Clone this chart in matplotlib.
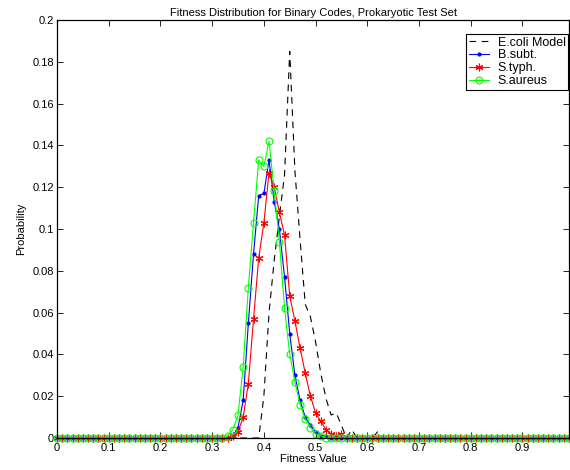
import numpy as np
import matplotlib
matplotlib.use("Agg")
import matplotlib.pyplot as plt
from matplotlib.ticker import FixedLocator, FixedFormatter

plt.rcParams['font.family'] = ['Liberation Sans', 'DejaVu Sans']

# Fitness bins (0.00 .. 0.99 in steps of 0.01)
bins = np.round(np.arange(100) * 0.01, 2)

# Probabilities for bins 0.30 .. 0.65; all other bins are zero
window_start = 30
ecoli = [0, 0, 0, 0, 0, 0, 0, 0, 0, 0.0,
         0.020, 0.060, 0.085, 0.106, 0.126, 0.185, 0.128, 0.095, 0.064, 0.058,
         0.046, 0.031, 0.019, 0.011, 0.012, 0.006, 0.0, 0.004, 0.0, 0.0,
         0.0, 0.0, 0.003, 0.0, 0.0, 0.0]
bsubt = [0, 0, 0, 0, 0.001, 0.005, 0.018, 0.055, 0.088, 0.116,
         0.117, 0.133, 0.113, 0.100, 0.077, 0.050, 0.030, 0.018, 0.010, 0.006,
         0.003, 0.001, 0.001, 0, 0, 0, 0, 0, 0, 0,
         0, 0, 0, 0, 0, 0]
styph = [0, 0, 0, 0, 0.001, 0.003, 0.010, 0.026, 0.057, 0.086,
         0.103, 0.127, 0.120, 0.108, 0.097, 0.068, 0.056, 0.043, 0.031, 0.020,
         0.012, 0.008, 0.004, 0.002, 0.001, 0.002, 0, 0, 0, 0,
         0, 0, 0, 0, 0, 0]
saureus = [0, 0, 0, 0.001, 0.004, 0.011, 0.034, 0.072, 0.103, 0.133,
           0.130, 0.142, 0.118, 0.094, 0.062, 0.040, 0.027, 0.016, 0.009, 0.005,
           0.002, 0.001, 0, 0, 0, 0, 0, 0, 0, 0,
           0, 0, 0, 0, 0, 0]

labels = ["E.coli Model", "B.subt.", "S.typh.", "S.aureus"]
title = "Fitness Distribution for Binary Codes, Prokaryotic Test Set"
xticks = [0, 0.1, 0.2, 0.3, 0.4, 0.5, 0.6, 0.7, 0.8, 0.9]
xticklabels = ["0", "0.1", "0.2", "0.3", "0.4", "0.5", "0.6", "0.7", "0.8", "0.9"]
yticks = [0, 0.02, 0.04, 0.06, 0.08, 0.1, 0.12, 0.14, 0.16, 0.18, 0.2]
yticklabels = ["0", "0.02", "0.04", "0.06", "0.08", "0.1", "0.12", "0.14", "0.16", "0.18", "0.2"]


def full_series(window):
    values = np.zeros(len(bins))
    values[window_start:window_start + len(window)] = window
    return values


fig = plt.figure(figsize=(5.7, 4.7), dpi=100)
ax = fig.add_axes([57 / 570, 32 / 470, 512 / 570, 418 / 470])

ax.plot(bins, full_series(ecoli), color='black', linestyle=(0, (6, 5)), lw=0.8,
        label=labels[0])
ax.plot(bins, full_series(bsubt), color='blue', marker='o', markersize=2, lw=0.8,
        label=labels[1], clip_on=False)
ax.plot(bins, full_series(styph), color='red', marker=(6, 2, 0), markersize=5.5,
        markeredgewidth=0.8, lw=0.8, label=labels[2], clip_on=False)
ax.plot(bins, full_series(saureus), color='#00ff00', marker='o', markersize=5,
        markerfacecolor='none', markeredgewidth=0.8, lw=0.8, label=labels[3],
        clip_on=False)

ax.set_xlim(0, 0.99)
ax.set_ylim(0, 0.2)
ax.xaxis.set_major_locator(FixedLocator(xticks))
ax.xaxis.set_major_formatter(FixedFormatter(xticklabels))
ax.yaxis.set_major_locator(FixedLocator(yticks))
ax.yaxis.set_major_formatter(FixedFormatter(yticklabels))
ax.tick_params(direction='in', length=4, width=0.6, top=True, right=True,
               labelsize=8, pad=2)
ax.tick_params(axis='x', pad=3.5)
for spine in ax.spines.values():
    spine.set_linewidth(0.9)

ax.set_title(title, fontsize=8, pad=3)
ax.set_xlabel("Fitness Value", fontsize=8, labelpad=0.5)
ax.set_ylabel("Probability", fontsize=8, labelpad=5)

leg = ax.legend(loc='upper left', bbox_to_anchor=(466 / 570, 436 / 470),
                bbox_transform=fig.transFigure, fontsize=9, frameon=True,
                fancybox=False, edgecolor='black', framealpha=1,
                handlelength=1.6, handletextpad=0.75, borderpad=0.2,
                labelspacing=0.08, borderaxespad=0)
leg.get_frame().set_linewidth(0.8)

fig.savefig("out.png", dpi=100)
